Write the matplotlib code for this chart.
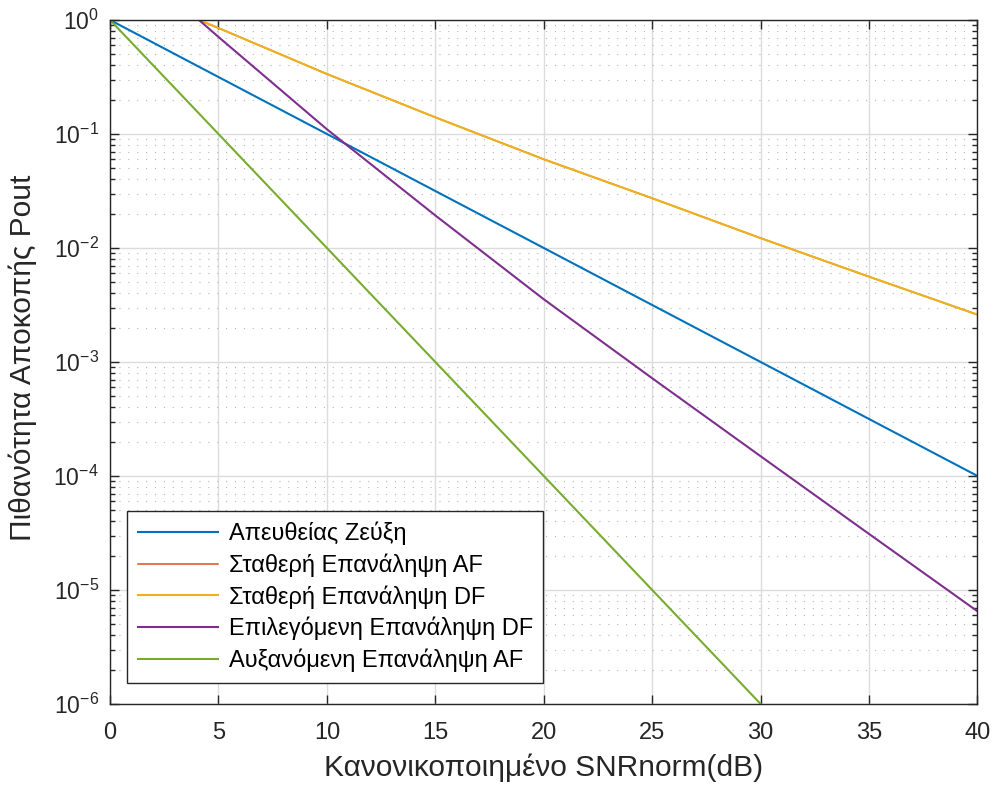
import matplotlib
matplotlib.use('Agg')
import matplotlib.pyplot as plt
from matplotlib.ticker import LogLocator, NullFormatter, MultipleLocator

plt.rcParams['font.family'] = ['Liberation Sans', 'DejaVu Sans']

# Τιμές από το διάγραμμα (SNR σε dB)
snr = [0, 5, 10, 15, 20, 25, 30, 35, 40]
p_direct = [1.0, 0.316, 0.1, 0.0316, 0.01, 3.16e-3, 1e-3, 3.16e-4, 1e-4]
p_incr_af = [1.0, 0.1, 0.01, 1e-3, 1e-4, 1e-5, 1e-6, 1e-7, 1e-8]

snr_relay = [4.1, 5, 10, 15, 20, 25, 30, 35, 40]
p_fixed_df = [1.0, 0.85, 0.336, 0.140, 0.060, 0.0273, 0.0122, 0.0056, 0.0026]
p_fixed_af = [1.0, 0.85, 0.336, 0.140, 0.060, 0.0273, 0.0122, 0.0056, 0.0026]  # κρυμμένη κάτω από την DF
p_sel_df = [1.0, 0.71, 0.110, 0.0193, 0.00355, 7.2e-4, 1.49e-4, 3.1e-5, 6.5e-6]

labels = ['Απευθείας Ζεύξη', 'Σταθερή Επανάληψη AF', 'Σταθερή Επανάληψη DF',
          'Επιλεγόμενη Επανάληψη DF', 'Αυξανόμενη Επανάληψη AF']
colors = ['#0072BD', '#D95319', '#EDB120', '#7E2F8E', '#77AC30']

fig = plt.figure(figsize=(9.94, 7.9), dpi=100)
ax = fig.add_axes([0.1107, 0.1089, 0.8727, 0.8658])

lw = 1.5
ax.semilogy(snr, p_direct, color=colors[0], lw=lw, label=labels[0])
ax.semilogy(snr_relay, p_fixed_af, color=colors[1], lw=1.1, label=labels[1])
ax.semilogy(snr_relay, p_fixed_df, color=colors[2], lw=lw, label=labels[2])
ax.semilogy(snr_relay, p_sel_df, color=colors[3], lw=lw, label=labels[3])
ax.semilogy(snr, p_incr_af, color=colors[4], lw=lw, label=labels[4])

ax.set_xlim(0, 40)
ax.set_ylim(1e-6, 1)
ax.xaxis.set_major_locator(MultipleLocator(5))
ax.yaxis.set_major_locator(LogLocator(base=10, numticks=10))
ax.yaxis.set_minor_locator(LogLocator(base=10, subs=range(2, 10), numticks=10))
ax.yaxis.set_minor_formatter(NullFormatter())

# Πλέγμα σε στυλ MATLAB
ax.grid(True, which='major', color='#dcdcdc', lw=1.0, ls='-')
ax.grid(True, which='minor', axis='y', color='#b5b5b5', lw=0.8, ls=(0, (1, 7)))
ax.set_axisbelow(True)

ax.tick_params(which='both', direction='in', top=True, right=True,
               colors='#262626', labelcolor='#262626', width=1)
ax.tick_params(which='major', length=6.5)
ax.tick_params(which='minor', length=3.5)
ax.tick_params(axis='x', labelsize=17, pad=13)
ax.tick_params(axis='y', labelsize=16.5, pad=8)
for s in ax.spines.values():
    s.set_color('#262626')
    s.set_linewidth(1.0)

ax.set_xlabel('Κανονικοποιημένο SNRnorm(dB)', fontsize=21.5, color='#262626', labelpad=7)
ax.set_ylabel('Πιθανότητα Αποκοπής Pout', fontsize=21.5, color='#262626')
ax.yaxis.set_label_coords(-0.084, 0.506)

leg = ax.legend(loc='lower left', bbox_to_anchor=(0.0196, 0.031), fontsize=17,
                frameon=True, fancybox=False, handlelength=3.4, handletextpad=0.45,
                labelspacing=0.35, borderpad=0.45, borderaxespad=0)
leg.get_frame().set_edgecolor('#262626')
leg.get_frame().set_linewidth(1.0)
leg.get_frame().set_alpha(1)

fig.savefig('out.png', dpi=100)
